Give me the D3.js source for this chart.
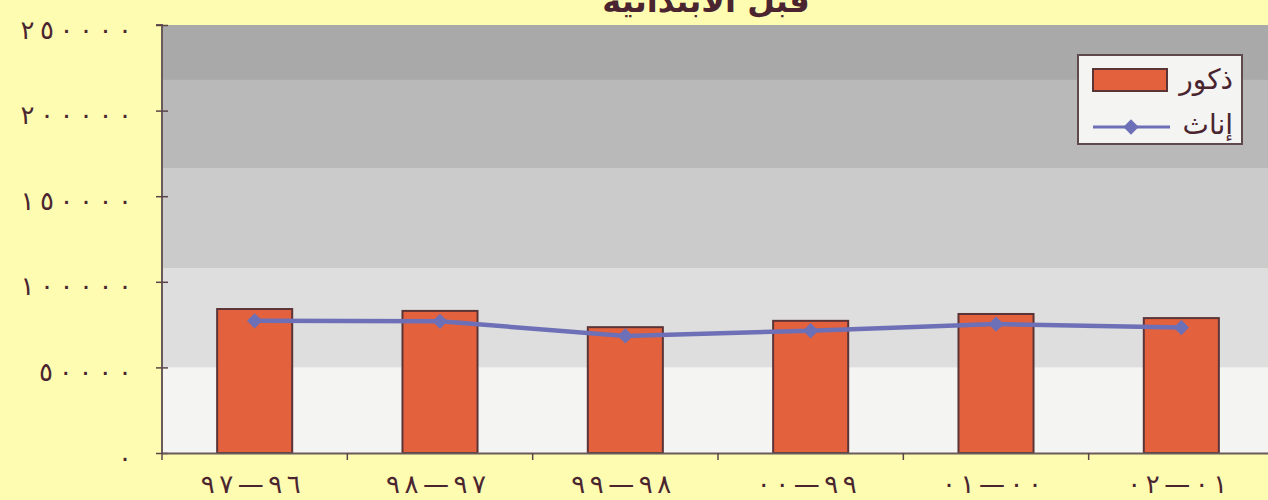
<!DOCTYPE html>
<html>
<head>
<meta charset="utf-8">
<script src="https://cdn.jsdelivr.net/npm/d3@7"></script>
<style>
  html, body { margin: 0; padding: 0; background: #fdfcb1; overflow: hidden; }
  text { font-family: "DejaVu Sans", sans-serif; fill: #4a2530; }
</style>
</head>
<body>
<div id="chart"></div>
<script>
// data
var years = ["٩٦—٩٧", "٩٧—٩٨", "٩٨—٩٩", "٩٩—٠٠", "٠٠—٠١", "٠١—٠٢"];
var males = [84100, 83000, 73500, 77200, 81200, 78800];
var females = [77200, 76900, 68400, 71400, 75300, 73300];
var yTicks = [0, 50000, 100000, 150000, 200000, 250000];
var yTickLabels = ["٠", "٥٠٠٠٠", "١٠٠٠٠٠", "١٥٠٠٠٠", "٢٠٠٠٠٠", "٢٥٠٠٠٠"];
var title = "قبل الابتدائية";
var legendNames = ["ذكور", "إناث"];

var W = 1268, H = 500;
var margin = { top: 25, right: -6, bottom: 47, left: 162 };
var w = W - margin.left - margin.right,
    h = H - margin.top - margin.bottom;

var svg = d3.select("#chart").append("svg")
  .attr("width", W)
  .attr("height", H);

var g = svg.append("g")
  .attr("transform", "translate(" + margin.left + "," + margin.top + ")");

var x = d3.scaleBand().domain(years).range([0, w]).paddingInner(0.595).paddingOuter(0.2975);
var y = d3.scaleLinear().domain([0, 250000]).range([h, 0]);

// stepped grey background (old excel gradient)
var bands = [
  { from: 0, to: 0.128, color: "#a9a9a9" },
  { from: 0.128, to: 0.334, color: "#b9b9b9" },
  { from: 0.334, to: 0.568, color: "#cbcbcb" },
  { from: 0.568, to: 0.8, color: "#dedede" },
  { from: 0.8, to: 1, color: "#f4f4f2" }
];
g.selectAll(".band")
  .data(bands)
  .enter().append("rect")
  .attr("class", "band")
  .attr("x", 0)
  .attr("y", function (d) { return d.from * h; })
  .attr("width", w)
  .attr("height", function (d) { return (d.to - d.from) * h + 0.5; })
  .attr("fill", function (d) { return d.color; });

// bars
g.selectAll(".bar")
  .data(males)
  .enter().append("rect")
  .attr("class", "bar")
  .attr("x", function (d, i) { return x(years[i]); })
  .attr("y", function (d) { return y(d); })
  .attr("width", x.bandwidth())
  .attr("height", function (d) { return h - y(d); })
  .attr("fill", "#e3623d")
  .attr("stroke", "#5b3438")
  .attr("stroke-width", 2);

// line
var line = d3.line()
  .x(function (d, i) { return x(years[i]) + x.bandwidth() / 2; })
  .y(function (d) { return y(d); });

g.append("path")
  .datum(females)
  .attr("d", line)
  .attr("fill", "none")
  .attr("stroke", "#6d70b6")
  .attr("stroke-width", 4.5);

var diamond = d3.symbol().type(d3.symbolDiamond2).size(150);
g.selectAll(".pt")
  .data(females)
  .enter().append("path")
  .attr("class", "pt")
  .attr("d", diamond)
  .attr("transform", function (d, i) {
    return "translate(" + (x(years[i]) + x.bandwidth() / 2) + "," + y(d) + ")";
  })
  .attr("fill", "#6d70b6");

// y axis
var yAxis = g.append("g")
  .call(d3.axisLeft(y).tickValues(yTicks).tickSize(6)
    .tickFormat(function (d, i) { return yTickLabels[i]; }));
yAxis.select(".domain").attr("stroke", "#6b5a5a").attr("stroke-width", 2).attr("d", "M-6,0H0V" + h);
yAxis.selectAll(".tick line").attr("stroke", "#5b4448").attr("stroke-width", 1.5).attr("x2", 6).attr("x1", -6);
yAxis.selectAll(".tick text")
  .attr("x", -30)
  .attr("dy", "0.5em")
  .style("font-size", "26px")
  .style("fill", "#4a2530")
  .attr("direction", "ltr")
  .each(function (d, i) {
    var n = yTickLabels[i].length;
    if (n > 1) d3.select(this).attr("textLength", n * 18.6).attr("lengthAdjust", "spacing");
  });

// x axis
var xAxis = g.append("g")
  .attr("transform", "translate(0," + h + ")")
  .call(d3.axisBottom(x).tickSize(0).tickPadding(22));
xAxis.select(".domain").attr("stroke", "#6b5a5a").attr("stroke-width", 2);
xAxis.selectAll(".tick text")
  .attr("dx", "-4")
  .attr("textLength", 100)
  .attr("lengthAdjust", "spacing")
  .style("font-size", "26px")
  .style("fill", "#4a2530");

// separators between categories
xAxis.selectAll(".sep")
  .data(years)
  .enter().append("line")
  .attr("class", "sep")
  .attr("x1", function (d) { return x(d) - x.step() * x.paddingInner() / 2; })
  .attr("x2", function (d) { return x(d) - x.step() * x.paddingInner() / 2; })
  .attr("y1", 0)
  .attr("y2", 7)
  .attr("stroke", "#5b4448")
  .attr("stroke-width", 1.5);

// title (cut at the top edge, as in the source)
svg.append("text")
  .attr("x", 706)
  .attr("y", 12)
  .attr("text-anchor", "middle")
  .style("font-size", "32px")
  .style("font-weight", "bold")
  .text(title);

// legend
var lg = svg.append("g").attr("transform", "translate(1078,55)");
lg.append("rect")
  .attr("width", 164).attr("height", 89)
  .attr("fill", "#f4f4f2")
  .attr("stroke", "#5e4a4c")
  .attr("stroke-width", 2);
lg.append("rect")
  .attr("x", 15).attr("y", 14).attr("width", 74).attr("height", 22)
  .attr("fill", "#e3623d")
  .attr("stroke", "#5b3438")
  .attr("stroke-width", 2);
lg.append("line")
  .attr("x1", 15).attr("x2", 92).attr("y1", 72).attr("y2", 72)
  .attr("stroke", "#6d70b6").attr("stroke-width", 3);
lg.append("path")
  .attr("d", diamond)
  .attr("transform", "translate(53,72)")
  .attr("fill", "#6d70b6");
lg.selectAll(".lt")
  .data(legendNames)
  .enter().append("text")
  .attr("class", "lt")
  .attr("x", 155)
  .attr("y", function (d, i) { return 34 + i * 45; })
  .attr("text-anchor", "end")
  .style("font-size", "28px")
  .text(function (d) { return d; });
</script>
</body>
</html>
